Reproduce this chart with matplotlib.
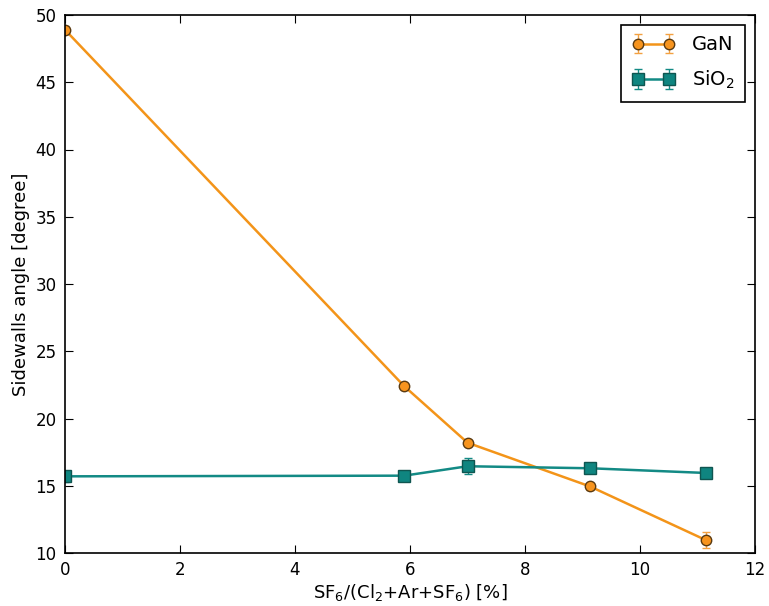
import matplotlib
matplotlib.use("Agg")
import matplotlib.pyplot as plt

x_gan = [0, 5.9, 7.0, 9.13, 11.15]
y_gan = [48.9, 22.4, 18.2, 14.95, 10.95]
e_gan = [0.3, 0.2, 0.2, 0.25, 0.6]

x_sio2 = [0, 5.9, 7.0, 9.13, 11.15]
y_sio2 = [15.7, 15.75, 16.45, 16.3, 15.95]
e_sio2 = [0.4, 0.2, 0.6, 0.3, 0.3]

fig = plt.figure(figsize=(7.69, 6.06), dpi=100)
ax = fig.add_axes([65/769, 53/606, 690/769, 538/606])

ax.errorbar(x_gan, y_gan, yerr=e_gan, color='#f39419', marker='o', markersize=7.5,
            markeredgecolor='#5a3a10', markerfacecolor='#f7941e', lw=1.8, capsize=3,
            ecolor='#f3a040', elinewidth=1, label='GaN')
ax.errorbar(x_sio2, y_sio2, yerr=e_sio2, color='#138a85', marker='s', markersize=8,
            markeredgecolor='#0f5550', markerfacecolor='#0f8580', lw=1.8, capsize=3,
            ecolor='#138a85', elinewidth=1, label='SiO$_2$')

ax.set_xlim(0, 12)
ax.set_ylim(10, 50)
ax.set_xticks(range(0, 13, 2))
ax.set_yticks(range(10, 51, 5))
ax.tick_params(direction='in', top=True, right=True, length=6, labelsize=12, pad=6)
ax.set_xlabel('SF$_6$/(Cl$_2$+Ar+SF$_6$) [%]', fontsize=13, labelpad=2)
ax.set_ylabel('Sidewalls angle [degree]', fontsize=13)
for s in ax.spines.values():
    s.set_linewidth(1.2)
leg = ax.legend(loc='upper right', numpoints=2, fontsize=14, fancybox=False,
                edgecolor='black', framealpha=1, handlelength=2.2,
                labelspacing=0.75, borderpad=0.55, handletextpad=0.9,
                borderaxespad=0.5)
leg.get_frame().set_linewidth(1.2)

fig.savefig('out.png', dpi=100)
